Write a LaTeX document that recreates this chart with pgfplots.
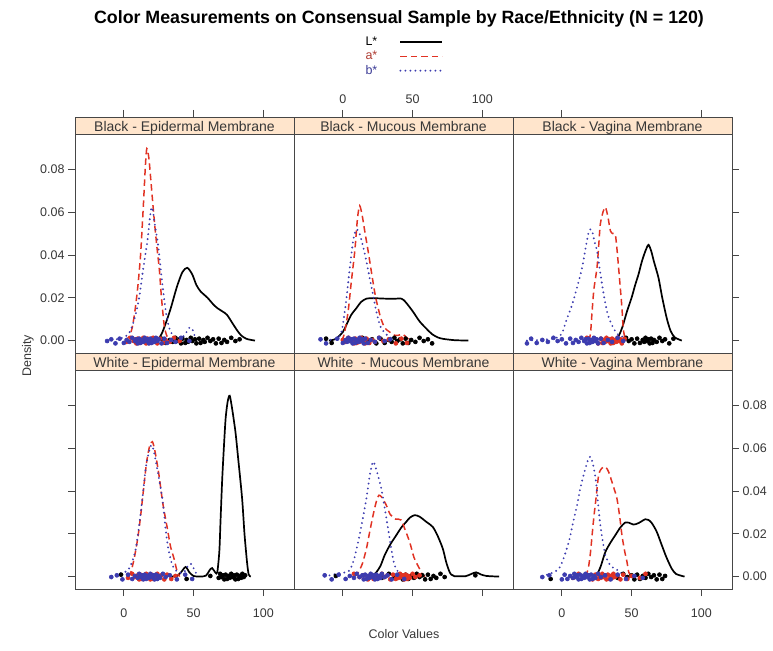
\documentclass[border=0pt]{standalone}
\usepackage{fontspec}
\setmainfont{Liberation Sans}
\usepackage{pgfplots}
\pgfplotsset{compat=1.18}
\definecolor{stripbg}{HTML}{FFE5CC}
\definecolor{lred}{RGB}{225,50,35}
\definecolor{lblue}{RGB}{60,60,175}
\definecolor{axgray}{RGB}{70,70,70}
\definecolor{txtgray}{RGB}{55,55,55}
\definecolor{legA}{RGB}{175,60,50}
\definecolor{legB}{RGB}{60,60,150}
\newcommand\tk{\fontsize{12.5}{14}\selectfont}
\newcommand\st{\fontsize{14}{15}\selectfont}

\pgfplotsset{
  common/.style={
    scale only axis, width=219pt, xmin=-35, xmax=122,
    axis line style={draw=axgray, line width=0.8pt},
    tick style={draw=axgray, line width=0.8pt},
    tick align=outside, major tick length=7pt,
    tick label style={font=\tk, text=txtgray},
    /pgf/number format/assume math mode=true,
    scaled x ticks=false, scaled y ticks=false,
  },
  panel/.style={common, height=219pt,
    ymin=-0.0058, ymax=0.0965,
    xtick={0,50,100}, ytick={0,0.02,0.04,0.06,0.08},
    yticklabel style={/pgf/number format/fixed, /pgf/number format/fixed zerofill, /pgf/number format/precision=2},
    xticklabel shift=9pt,
    no markers,
  },
  strip/.style={common, height=17pt, ymin=0, ymax=1, ytick=\empty, xtick=\empty,
    axis background/.style={fill=stripbg},
    every axis title/.style={at={(0.5,0.15)}, anchor=base, font=\st, text=txtgray, inner sep=0pt},
  },
  Lline/.style={black, line width=1.7pt, smooth, tension=0.45},
  Aline/.style={lred, line width=1.5pt, dash pattern=on 6.5pt off 4pt, smooth, tension=0.45},
  Bline/.style={lblue, line width=2.1pt, line cap=round, dash pattern=on 0pt off 5pt, smooth, tension=0.45},
  Lpts/.style={only marks, mark=o, mark size=2pt, black, mark options={line width=0.6pt, solid}, forget plot},
  Apts/.style={only marks, mark=o, mark size=2pt, lred, mark options={line width=0.6pt, solid}, forget plot},
  Bpts/.style={only marks, mark=o, mark size=2pt, lblue, mark options={line width=0.6pt, solid}, forget plot},
}

\begin{document}
\begin{tikzpicture}
\useasboundingbox (0pt,0pt) rectangle (773pt,-650pt);

\node[font=\fontsize{17.8}{19}\selectfont\bfseries, anchor=center] at (399pt,-19pt)
  {Color Measurements on Consensual Sample by Race/Ethnicity (N = 120)};
\node[font=\fontsize{12.5}{14}\selectfont, text=txtgray, rotate=90] at (28pt,-356pt) {Density};
\node[font=\fontsize{12.5}{14}\selectfont, text=txtgray] at (404pt,-634pt) {Color Values};

% ---------- strips
\begin{axis}[strip, at={(75pt,-117pt)}, anchor=north west, title={Black - Epidermal Membrane},
  xtick={0,50,100}, xtick pos=right, xticklabels={}]
\end{axis}
\begin{axis}[strip, at={(294pt,-117pt)}, anchor=north west, title={Black - Mucous Membrane},
  xtick={0,50,100}, xtick pos=right, xticklabel pos=right, xticklabel shift=3pt]
\end{axis}
\begin{axis}[strip, at={(513pt,-117pt)}, anchor=north west, title={Black - Vagina Membrane},
  xtick={0,100}, xtick pos=right, xticklabels={}]
\end{axis}
\begin{axis}[strip, at={(75pt,-353pt)}, anchor=north west, title={White - Epidermal Membrane}]
\end{axis}
\begin{axis}[strip, at={(294pt,-353pt)}, anchor=north west, title={White~ - Mucous Membrane}]
\end{axis}
\begin{axis}[strip, at={(513pt,-353pt)}, anchor=north west, title={White - Vagina Membrane}]
\end{axis}

% ---------- Black - Epidermal
\begin{axis}[panel, at={(75pt,-134pt)}, anchor=north west,
  xtick=\empty, ytick pos=left]
\addplot[Lpts] coordinates {(27,0.0009)(30,-0.0011)(33,0.0003)(35,-0.0006)(37,0.0013)(38,-0.0002)(40,0.0006)(41,-0.0013)
(42,0.0009)(44,-0.0011)(45,0.0003)(46,-0.0006)(48,0.0013)(49,-0.0002)(51,0.0006)(52,-0.0013)
(54,0.0009)(55,-0.0011)(57,0.0003)(58,-0.0006)(60,0.0013)(62,-0.0002)(64,0.0006)(66,-0.0013)
(68,0.0009)(70,-0.0011)(72,0.0003)(74,-0.0006)(77,0.0013)(80,-0.0002)(83,0.0006)};
\addplot[Lline] coordinates {(24,0.0002)(27,0.003)(30,0.008)(33.6,0.015)(38,0.025)(42,0.032)(45.5,0.034)(49,0.031)(52,0.026)(55,0.023)(60,0.020)(64,0.017)(67,0.0152)(71,0.0135)(74,0.012)(78,0.008)(81,0.005)(84,0.0025)(88,0.0008)(94,0.0)};
\addplot[Apts] coordinates {(2,-0.0006)(5,0.0013)(7,-0.0002)(8,0.0006)(9,-0.0013)(10,0.0009)(11,-0.0011)(12,0.0003)(13,-0.0006)(14,0.0013)(15,-0.0002)(15.5,0.0006)(16,-0.0013)(17,0.0009)(18,-0.0011)(19,0.0003)(20,-0.0006)(21,0.0013)(22,-0.0002)(23,0.0006)(24,-0.0013)(26,0.0009)(28,-0.0011)(30,0.0003)(33,-0.0006)(36,0.0013)(40,-0.0002)};
\addplot[Aline] coordinates {(1,0.0)(4,0.002)(6,0.006)(8,0.014)(10,0.025)(12,0.040)(14,0.063)(15.5,0.082)(16.5,0.0897)(18,0.085)(20,0.070)(22,0.055)(24,0.042)(25.5,0.033)(27,0.020)(29,0.007)(31,0.002)(34,0.0003)(38,0.0)};
\addplot[Bpts] coordinates {(-12,-0.0002)(-9,0.0006)(-6,-0.0013)(-3,0.0009)(0,-0.0011)(2,0.0003)(4,-0.0006)(6,0.0013)(8,-0.0002)(9,0.0006)(10,-0.0013)(11,0.0009)(12,-0.0011)(13,0.0003)(14,-0.0006)(15,0.0013)(16,-0.0002)(17,0.0006)(18,-0.0013)(19,0.0009)(20,-0.0011)(21,0.0003)(22,-0.0006)(23,0.0013)(24,-0.0002)(25,0.0006)(27,-0.0013)(29,0.0009)(31,-0.0011)(34,0.0003)(37,-0.0006)(41,0.0013)(47,-0.0002)};
\addplot[Bline] coordinates {(-12,0)(-6,0.0005)(0,0.0015)(3,0.003)(5,0.005)(8,0.011)(11,0.02)(14,0.034)(17,0.047)(19.3,0.0605)(20.5,0.062)(22,0.055)(24.5,0.045)(27,0.030)(29,0.019)(31,0.010)(33.6,0.004)(37,0.0015)(41,0.001)(44,0.003)(47,0.006)(49,0.0055)(51,0.002)(54,0.0)};
\end{axis}

% ---------- Black - Mucous
\begin{axis}[panel, at={(294pt,-134pt)}, anchor=north west,
  xtick=\empty, ytick=\empty,
  legend style={at={(0.5,1.255)}, anchor=south, draw=none, fill=none,
    font=\fontsize{12.5}{14}\selectfont, row sep=0pt, inner sep=0pt},
  legend plot pos=right, legend cell align=left,
  legend image code/.code={\path (0pt,0pt); \draw[#1] (20pt,0pt) -- (62pt,0pt);}]
\addplot[Lpts] coordinates {(-12,0.0009)(-8,-0.0011)(5,0.0003)(10,-0.0006)(14,0.0013)(18,-0.0002)(21,0.0006)(24,-0.0013)(27,0.0009)(30,-0.0011)(33,0.0003)(35,-0.0006)(37,0.0013)(39,-0.0002)(41,0.0006)(43,-0.0013)(45,0.0009)(47,-0.0011)(49,0.0003)(52,-0.0006)(55,0.0013)(58,-0.0002)(61,0.0006)(64,-0.0013)};
\addplot[Lline] coordinates {(-10,0.0)(-5,0.0008)(0,0.004)(2.6,0.0074)(6,0.012)(9.8,0.0152)(13,0.018)(16.9,0.0196)(22,0.0198)(30,0.0196)(36,0.0195)(41.9,0.0196)(45,0.018)(50.2,0.0136)(55,0.009)(60,0.0055)(64,0.003)(68,0.0015)(72,0.0008)(80,0.0002)(90,0.0)};
\addlegendentry{L*}
\addplot[Apts] coordinates {(0,0.0003)(2,-0.0006)(4,0.0013)(6,-0.0002)(7,0.0006)(8,-0.0013)(9,0.0009)(10,-0.0011)(11,0.0003)(12,-0.0006)(13,0.0013)(14,-0.0002)(15,0.0006)(16,-0.0013)(17,0.0009)(19,-0.0011)(21,0.0003)(23,-0.0006)(26,0.0013)(29,-0.0002)(33,0.0006)(38,-0.0013)(42,0.0009)(46,-0.0011)};
\addplot[Aline] coordinates {(-1,0)(1,0.003)(3.8,0.0136)(6,0.027)(8.6,0.042)(10.5,0.057)(12.1,0.063)(14,0.058)(16,0.050)(18.1,0.042)(21,0.030)(23.6,0.020)(27,0.011)(30,0.006)(33.6,0.004)(37,0.0025)(40,0.0025)(43,0.003)(46,0.0012)(49,0.0)};
\addlegendentry{\textcolor{legA}{a*}}
\addplot[Bpts] coordinates {(-16,0.0006)(-12,-0.0013)(-4,0.0009)(0,-0.0011)(2,0.0003)(3,-0.0006)(4,0.0013)(5,-0.0002)(6,0.0006)(7,-0.0013)(8,0.0009)(9,-0.0011)(10,0.0003)(11,-0.0006)(12,0.0013)(13,-0.0002)(14,0.0006)(15,-0.0013)(16,0.0009)(18,-0.0011)(20,0.0003)(23,-0.0006)(26,0.0013)(30,-0.0002)(34,0.0006)};
\addplot[Bline] coordinates {(-16,0)(-10,0.0003)(-4,0.001)(-1,0.004)(1.4,0.0136)(3,0.022)(5,0.034)(7.5,0.047)(9.8,0.052)(12,0.050)(14.5,0.044)(16.9,0.037)(19,0.030)(21.5,0.022)(24,0.0136)(27,0.0065)(31,0.003)(35,0.001)(40,0.0)};
\addlegendentry{\textcolor{legB}{b*}}
\end{axis}

% ---------- Black - Vagina
\begin{axis}[panel, at={(513pt,-134pt)}, anchor=north west,
  xtick=\empty, ytick pos=right, yticklabels={}]
\addplot[Lpts] coordinates {(36,-0.0011)(40,0.0003)(43,-0.0006)(46,0.0013)(48,-0.0002)(50,0.0006)(52,-0.0013)(54,0.0009)(56,-0.0011)(58,0.0003)(59,-0.0006)(60,0.0013)(61,-0.0002)(62,0.0006)(63,-0.0013)(64,0.0009)(65,-0.0011)(66,0.0003)(68,-0.0006)(70,0.0013)(72,-0.0002)(74,0.0006)(77,-0.0013)(80,0.0009)};
\addplot[Lline] coordinates {(38,0)(41,0.0025)(43.5,0.0065)(46.7,0.0136)(50,0.020)(52.6,0.026)(55,0.031)(57.4,0.037)(60,0.042)(62.1,0.0447)(64,0.042)(66,0.037)(69.3,0.0293)(72,0.020)(75.2,0.0105)(78,0.0045)(81,0.0015)(86,0.0)};
\addplot[Apts] coordinates {(18,0.0013)(21,-0.0002)(24,0.0006)(26,-0.0013)(28,0.0009)(29,-0.0011)(30,0.0003)(31,-0.0006)(32,0.0013)(33,-0.0002)(34,0.0006)(35,-0.0013)(36,0.0009)(37,-0.0011)(38,0.0003)(39,-0.0006)(40,0.0013)(41,-0.0002)(42,0.0006)(43,-0.0013)(45,0.0009)};
\addplot[Aline] coordinates {(19,0)(20.5,0.003)(21.7,0.0136)(23,0.024)(25.2,0.034)(26.5,0.045)(27.6,0.0544)(29.5,0.060)(31.2,0.0623)(33,0.058)(34.8,0.0513)(36.5,0.050)(38.3,0.0497)(39.5,0.043)(40.7,0.034)(42,0.024)(43.1,0.0152)(44,0.006)(45,0.002)(47,0.0)};
\addplot[Bpts] coordinates {(-25,-0.0013)(-22,0.0009)(-18,-0.0011)(-14,0.0003)(-10,-0.0006)(-6,0.0013)(-3,-0.0002)(0,0.0006)(3,-0.0013)(6,0.0009)(8,-0.0011)(10,0.0003)(12,-0.0006)(14,0.0013)(16,-0.0002)(17,0.0006)(18,-0.0013)(19,0.0009)(20,-0.0011)(21,0.0003)(22,-0.0006)(23,0.0013)(24,-0.0002)(25,0.0006)(26,-0.0013)(28,0.0009)(30,-0.0011)(33,0.0003)(36,-0.0006)(40,0.0013)(44,-0.0002)};
\addplot[Bline] coordinates {(-25,0)(-15,0.0003)(-8,0.0008)(-3,0.0015)(0.2,0.0035)(3,0.009)(7.4,0.0168)(11,0.025)(14.5,0.034)(17,0.043)(19,0.050)(20.5,0.052)(22,0.0505)(23.5,0.046)(25.2,0.042)(27.5,0.032)(30,0.0216)(33,0.012)(37,0.0058)(40,0.003)(43,0.002)(46,0.0)};
\end{axis}

% ---------- White - Epidermal
\begin{axis}[panel, at={(75pt,-370pt)}, anchor=north west,
  xtick pos=left, ytick pos=left, yticklabels={}]
\addplot[Lpts] coordinates {(-2,0.0009)(45,-0.0011)(62,0.0003)(68,-0.0006)(69,0.0013)(70,-0.0002)(71,0.0006)(72,-0.0013)(73,0.0009)(74,-0.0011)(75,0.0003)(76,-0.0006)(77,0.0013)(78,-0.0002)(79,0.0006)(80,-0.0013)(81,0.0009)(82,-0.0011)(83,0.0003)(84,-0.0006)(85,0.0013)(86,-0.0002)(87,0.0006)};
\addplot[Lline] coordinates {(34,0)(38,0.0002)(41,0.002)(44.3,0.0045)(47,0.002)(50,0.0003)(55,0.0)(59,0.0005)(61.5,0.003)(63.3,0.004)(65.5,0.002)(67,0.002)(68.5,0.012)(69.3,0.0256)(70.5,0.045)(71.7,0.06)(73,0.074)(74.5,0.082)(75.9,0.0845)(77.5,0.079)(80,0.0677)(82,0.055)(84.8,0.0365)(86.5,0.02)(88.3,0.0069)(89.5,0.001)(91,0.0)};
\addplot[Apts] coordinates {(3,-0.0006)(6,0.0013)(8,-0.0002)(10,0.0006)(11,-0.0013)(12,0.0009)(13,-0.0011)(14,0.0003)(15,-0.0006)(16,0.0013)(17,-0.0002)(18,0.0006)(19,-0.0013)(20,0.0009)(21,-0.0011)(22,0.0003)(23,-0.0006)(24,0.0013)(25,-0.0002)(27,0.0006)(29,-0.0013)(31,0.0009)(34,-0.0011)(37,0.0003)};
\addplot[Aline] coordinates {(3,0)(5,0.002)(7.4,0.0084)(10,0.018)(12.1,0.0287)(14.5,0.043)(16.4,0.0537)(18.5,0.061)(20.5,0.063)(22.5,0.058)(25.2,0.0474)(28,0.034)(31.2,0.0225)(33.5,0.014)(36,0.0084)(38,0.003)(40,0.0)};
\addplot[Bpts] coordinates {(-9,-0.0002)(-5,0.0006)(-1,-0.0013)(3,0.0009)(6,-0.0011)(8,0.0003)(10,-0.0006)(11,0.0013)(12,-0.0002)(13,0.0006)(14,-0.0013)(15,0.0009)(16,-0.0011)(17,0.0003)(18,-0.0006)(19,0.0013)(20,-0.0002)(21,0.0006)(22,-0.0013)(23,0.0009)(24,-0.0011)(25,0.0003)(26,-0.0006)(28,0.0013)(30,-0.0002)(33,0.0006)(38,-0.0013)(44,0.0009)(49,-0.0011)};
\addplot[Bline] coordinates {(-9,0)(-5,0.001)(0,0.002)(3,0.003)(6,0.007)(8.6,0.013)(11,0.024)(13.3,0.0365)(16,0.052)(19.3,0.061)(21,0.060)(24,0.050)(27.6,0.0365)(30,0.022)(31.9,0.013)(35,0.005)(39,0.002)(43,0.002)(46,0.005)(48,0.006)(50,0.004)(53,0.0)};
\end{axis}

% ---------- White - Mucous
\begin{axis}[panel, at={(294pt,-370pt)}, anchor=north west,
  xtick pos=left, xticklabels={}, ytick=\empty]
\addplot[Lpts] coordinates {(-5,0.0003)(28,-0.0006)(33,0.0013)(37,-0.0002)(40,0.0006)(43,-0.0013)(45,0.0009)(47,-0.0011)(49,0.0003)(51,-0.0006)(53,0.0013)(55,-0.0002)(57,0.0006)(59,-0.0013)(61,0.0009)(63,-0.0011)(65,0.0003)(67,-0.0006)(70,0.0013)(73,-0.0002)(95,0.0006)};
\addplot[Lline] coordinates {(21,0)(24,0.002)(27,0.005)(30,0.010)(34,0.015)(38.3,0.0193)(42,0.023)(45.5,0.0256)(48,0.0275)(51.4,0.0287)(55,0.028)(60,0.0255)(64.5,0.0232)(68,0.019)(71.7,0.013)(74,0.007)(76,0.003)(77.6,0.001)(80,0.0002)(88,0.0002)(92,0.0012)(95.5,0.002)(99,0.001)(103,0.0003)(112,0.0)};
\addplot[Apts] coordinates {(8,0.0013)(12,-0.0002)(15,0.0006)(18,-0.0013)(20,0.0009)(22,-0.0011)(24,0.0003)(26,-0.0006)(28,0.0013)(30,-0.0002)(32,0.0006)(34,-0.0013)(36,0.0009)(38,-0.0011)(39,0.0003)(40,-0.0006)(41,0.0013)(42,-0.0002)(43,0.0006)(44,-0.0013)(45,0.0009)(46,-0.0011)(47,0.0003)(48,-0.0006)(50,0.0013)(52,-0.0002)(55,0.0006)};
\addplot[Aline] coordinates {(8,0)(11,0.002)(14,0.006)(16.9,0.013)(19,0.020)(21.7,0.0287)(24,0.035)(25.9,0.038)(28,0.037)(31.2,0.0333)(34,0.029)(37.9,0.0268)(40,0.0268)(41.9,0.0264)(44,0.023)(47.9,0.0162)(51,0.009)(54.7,0.004)(57,0.001)(59,0.0)};
\addplot[Bpts] coordinates {(-13,0.0006)(-8,-0.0013)(-3,0.0009)(2,-0.0011)(5,0.0003)(8,-0.0006)(10,0.0013)(12,-0.0002)(14,0.0006)(15,-0.0013)(16,0.0009)(17,-0.0011)(18,0.0003)(19,-0.0006)(20,0.0013)(21,-0.0002)(22,0.0006)(23,-0.0013)(24,0.0009)(25,-0.0011)(26,0.0003)(27,-0.0006)(28,0.0013)(30,-0.0002)(32,0.0006)(35,-0.0013)(39,0.0009)(44,-0.0011)};
\addplot[Bline] coordinates {(-13,0)(-8,0.0008)(-3,0.0015)(2,0.002)(5,0.003)(8,0.008)(11,0.0162)(14,0.026)(16.9,0.0365)(19.5,0.048)(21.7,0.0537)(24,0.050)(27.6,0.041)(30,0.032)(32.4,0.0225)(35,0.012)(37.1,0.0053)(40,0.002)(44,0.001)(48,0.0)};
\end{axis}

% ---------- White - Vagina
\begin{axis}[panel, at={(513pt,-370pt)}, anchor=north west,
  xtick pos=left, ytick pos=right, yticklabel pos=right]
\addplot[Lpts] coordinates {(-8,-0.0011)(36,0.0003)(40,-0.0006)(44,0.0013)(47,-0.0002)(50,0.0006)(52,-0.0013)(54,0.0009)(56,-0.0011)(58,0.0003)(60,-0.0006)(62,0.0013)(64,-0.0002)(66,0.0006)(68,-0.0013)(70,0.0009)(72,-0.0011)(74,0.0003)};
\addplot[Lline] coordinates {(24,0)(26,0.002)(28,0.005)(31.2,0.0115)(35,0.016)(38.3,0.0193)(42,0.023)(45.5,0.0253)(48,0.0252)(51.4,0.0243)(55,0.025)(59.8,0.0268)(62,0.0265)(64.5,0.025)(68,0.021)(71.7,0.0146)(75,0.009)(78.8,0.0037)(82,0.0012)(88,0.0)};
\addplot[Apts] coordinates {(8,-0.0006)(12,0.0013)(16,-0.0002)(19,0.0006)(22,-0.0013)(24,0.0009)(26,-0.0011)(27,0.0003)(28,-0.0006)(29,0.0013)(30,-0.0002)(31,0.0006)(32,-0.0013)(33,0.0009)(34,-0.0011)(35,0.0003)(36,-0.0006)(37,0.0013)(38,-0.0002)(40,0.0006)(42,-0.0013)(44,0.0009)(47,-0.0011)(50,0.0003)(56,-0.0006)(60,0.0013)};
\addplot[Aline] coordinates {(17,0)(19,0.004)(20.5,0.011)(21.7,0.0193)(23,0.028)(24.5,0.0365)(26.4,0.0474)(28.5,0.0505)(31.2,0.0513)(33.5,0.049)(35.9,0.0443)(37.5,0.041)(39.5,0.0365)(41.5,0.028)(43.1,0.0193)(45,0.012)(46.7,0.0069)(48,0.002)(50,0.0)};
\addplot[Bpts] coordinates {(-14,-0.0002)(-9,0.0006)(0,-0.0013)(2,0.0009)(4,-0.0011)(6,0.0003)(8,-0.0006)(9,0.0013)(10,-0.0002)(11,0.0006)(12,-0.0013)(13,0.0009)(14,-0.0011)(15,0.0003)(16,-0.0006)(17,0.0013)(18,-0.0002)(19,0.0006)(20,-0.0013)(21,0.0009)(22,-0.0011)(23,0.0003)(24,-0.0006)(26,0.0013)(28,-0.0002)(31,0.0006)(35,-0.0013)(40,0.0009)(46,-0.0011)(52,0.0003)(58,-0.0006)};
\addplot[Bline] coordinates {(-14,0)(-10,0.001)(-6,0.002)(-2.1,0.0037)(1,0.008)(5,0.0162)(8,0.025)(10.9,0.0333)(13.5,0.042)(16.9,0.0505)(18.5,0.054)(20.5,0.056)(22.5,0.052)(24.5,0.0443)(26,0.034)(27.6,0.024)(29.5,0.016)(31.2,0.010)(34,0.006)(37,0.004)(40,0.003)(43,0.0015)(47,0.0)};
\end{axis}
\end{tikzpicture}
\end{document}
